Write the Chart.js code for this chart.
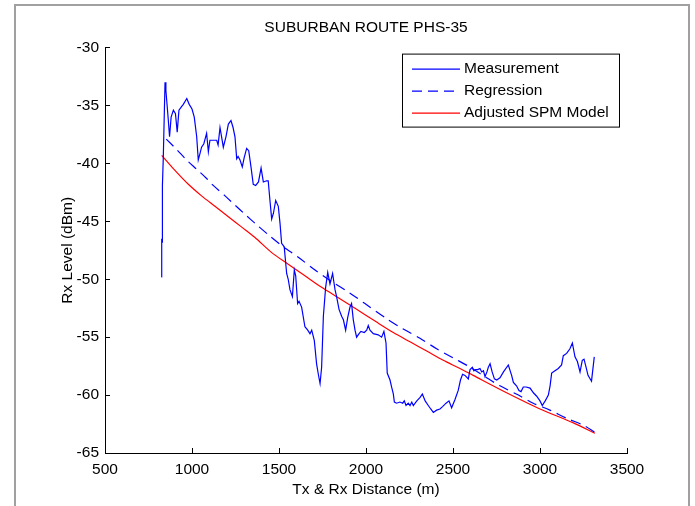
<!DOCTYPE html>
<html><head><meta charset="utf-8">
<script src="https://cdn.jsdelivr.net/npm/chart.js@4.4.0/dist/chart.umd.min.js"></script>
<style>html,body{margin:0;padding:0;background:#fff;}canvas{display:block;}</style>
</head><body>
<canvas id="c" width="695" height="506"></canvas>
<script>
const titleText = 'SUBURBAN ROUTE PHS-35';
const xAxisTitle = 'Tx & Rx Distance (m)';
const yAxisTitle = 'Rx Level (dBm)';
const seriesNames = ['Measurement', 'Regression', 'Adjusted SPM Model'];
const xTicks = [500, 1000, 1500, 2000, 2500, 3000, 3500];
const yTicks = [-65, -60, -55, -50, -45, -40, -35, -30];

const measDist = [824,826,828,830,835,845,850,856,864,871,880,893,905,915,925,940,950,970,984,1000,1013,1027,1036,1045,1055,1068,1084,1094,1103,1120,1142,1150,1161,1170,1180,1195,1209,1224,1236,1247,1257,1265,1276,1289,1300,1314,1326,1339,1352,1366,1382,1397,1410,1429,1438,1448,1458,1468,1481,1496,1506,1515,1530,1544,1553,1563,1577,1588,1596,1607,1615,1630,1649,1665,1678,1688,1703,1716,1726,1736,1745,1755,1768,1780,1793,1808,1822,1831,1845,1860,1870,1883,1895,1908,1917,1927,1937,1946,1960,1971,1990,2004,2013,2023,2042,2070,2090,2103,2115,2122,2138,2147,2157,2163,2176,2195,2211,2220,2230,2243,2253,2263,2272,2292,2311,2324,2340,2358,2372,2387,2406,2425,2440,2460,2477,2492,2511,2530,2543,2555,2569,2588,2598,2611,2620,2630,2642,2655,2665,2675,2684,2695,2703,2713,2725,2738,2751,2770,2790,2818,2837,2847,2865,2879,2891,2904,2920,2943,2962,2981,3000,3013,3030,3048,3058,3067,3086,3105,3124,3134,3153,3172,3186,3201,3215,3230,3243,3253,3265,3276,3296,3312];
const measLevel = [-49.8,-46.5,-46.8,-41.9,-39.5,-33.0,-33.7,-34.8,-36.3,-37.7,-36.0,-35.4,-35.7,-37.3,-35.4,-35.1,-34.9,-34.4,-34.9,-35.3,-36.0,-37.7,-39.7,-39.2,-38.6,-38.3,-37.4,-39.0,-38.0,-38.0,-38.0,-38.4,-36.9,-37.7,-38.6,-37.7,-36.6,-36.3,-36.9,-37.7,-39.6,-39.4,-39.7,-40.3,-39.5,-38.7,-38.9,-40.3,-41.8,-41.9,-41.6,-40.4,-41.6,-41.5,-41.5,-43.2,-44.8,-44.3,-43.2,-43.7,-45.2,-46.9,-47.2,-49.5,-50.0,-50.9,-51.5,-49.2,-49.7,-52.1,-51.9,-52.4,-54.1,-54.4,-54.7,-54.4,-55.3,-57.3,-58.2,-59.0,-57.6,-53.2,-50.7,-49.4,-50.4,-49.5,-50.9,-51.5,-52.6,-53.2,-53.5,-54.4,-53.3,-52.4,-52.1,-53.5,-54.4,-55.0,-54.7,-54.5,-54.6,-54.4,-54.0,-54.4,-54.7,-54.8,-55.0,-54.5,-55.5,-58.1,-58.7,-59.3,-59.9,-60.6,-60.7,-60.6,-60.7,-60.5,-60.9,-60.7,-60.9,-60.6,-60.9,-60.5,-60.2,-59.9,-60.5,-60.9,-61.2,-61.5,-61.3,-61.2,-61.0,-60.7,-60.5,-61.1,-60.4,-59.6,-58.7,-58.2,-58.3,-58.6,-57.8,-57.6,-57.9,-57.8,-57.8,-57.7,-58.0,-57.9,-58.4,-58.0,-57.6,-57.3,-58.0,-58.6,-58.7,-58.5,-58.0,-57.4,-58.3,-58.9,-59.2,-59.6,-59.7,-59.3,-59.3,-59.4,-59.8,-60.1,-60.5,-60.9,-60.5,-60.0,-59.2,-58.1,-57.9,-57.7,-57.4,-56.6,-56.4,-56.0,-55.5,-56.7,-57.1,-58.0,-57.0,-56.9,-57.6,-58.3,-58.8,-56.7];

const regDist = [852,912,969,1027,1084,1122,1190,1247,1305,1372,1450,1525,1611,1707,1803,1908,1994,2118,2214,2310,2406,2502,2588,2693,2770,2876,2961,3057,3153,3249,3316];
const regLevel = [-37.9,-38.8,-39.7,-40.5,-41.3,-41.9,-42.8,-43.6,-44.4,-45.3,-46.3,-47.2,-48.1,-49.2,-50.2,-51.2,-52.1,-53.4,-54.3,-55.1,-56.0,-56.8,-57.5,-58.5,-59.2,-60.0,-60.7,-61.3,-62.0,-62.6,-63.2];

const spmDist = [826,902,979,1055,1132,1209,1286,1362,1458,1553,1649,1745,1841,1937,2061,2157,2253,2349,2444,2540,2616,2808,3000,3192,3316];
const spmLevel = [-39.3,-40.6,-41.8,-42.8,-43.7,-44.6,-45.5,-46.4,-47.7,-48.7,-49.7,-50.7,-51.6,-52.5,-53.7,-54.6,-55.4,-56.2,-57.0,-57.7,-58.3,-59.8,-61.2,-62.4,-63.3];

const toPts = (xs, ys) => xs.map((x, i) => ({x: x, y: ys[i]}));
const FONT = {family: '"Liberation Sans", Arial, sans-serif', size: 15.5, weight: 'normal'};

const framePlugin = {
  id: 'frame',
  beforeDraw(chart) {
    const ctx = chart.ctx;
    ctx.save();
    ctx.fillStyle = '#fff';
    ctx.fillRect(0, 0, chart.width, chart.height);
    ctx.strokeStyle = '#a0a0a0';
    ctx.lineWidth = 2;
    ctx.beginPath();
    ctx.moveTo(15, chart.height);
    ctx.lineTo(15, 5);
    ctx.lineTo(689, 5);
    ctx.lineTo(689, chart.height);
    ctx.stroke();
    ctx.restore();
  }
};

const legendPlugin = {
  id: 'boxLegend',
  afterDatasetsDraw(chart) {
    const ctx = chart.ctx, ca = chart.chartArea;
    const bx = ca.right - 225, by = ca.top + 6, bw = 217, bh = 73;
    ctx.save();
    ctx.fillStyle = '#fff';
    ctx.fillRect(bx, by, bw, bh);
    ctx.strokeStyle = '#000';
    ctx.lineWidth = 1;
    ctx.strokeRect(bx + 0.5, by + 0.5, bw, bh);
    ctx.font = '15.5px "Liberation Sans", Arial, sans-serif';
    ctx.textBaseline = 'middle';
    ctx.textAlign = 'left';
    chart.data.datasets.forEach((ds, i) => {
      const yy = by + 15 + i * 22;
      ctx.strokeStyle = ds.borderColor;
      ctx.lineWidth = ds.borderWidth;
      ctx.setLineDash(ds.borderDash || []);
      ctx.beginPath();
      ctx.moveTo(bx + 10, yy + 0.5);
      ctx.lineTo(bx + 58, yy + 0.5);
      ctx.stroke();
      ctx.setLineDash([]);
      ctx.fillStyle = '#000';
      ctx.fillText(ds.label, bx + 62, yy);
    });
    ctx.restore();
  }
};

new Chart(document.getElementById('c'), {
  type: 'line',
  data: {
    datasets: [
      {label: seriesNames[0], data: toPts(measDist, measLevel), borderColor: '#0000ff', borderWidth: 1.2, pointRadius: 0, tension: 0, fill: false},
      {label: seriesNames[1], data: toPts(regDist, regLevel), borderColor: '#0000ff', borderWidth: 1.2, borderDash: [10, 6], pointRadius: 0, tension: 0.3, fill: false},
      {label: seriesNames[2], data: toPts(spmDist, spmLevel), borderColor: '#ff0000', borderWidth: 1.2, pointRadius: 0, tension: 0.3, fill: false}
    ]
  },
  options: {
    responsive: false,
    animation: false,
    devicePixelRatio: 1,
    layout: {padding: {left: 0, right: 68, top: 0, bottom: 0}},
    plugins: {
      legend: {display: false},
      tooltip: {enabled: false},
      title: {display: true, fullSize: false, text: titleText, color: '#000', font: FONT, padding: {top: 18, bottom: 11}}
    },
    scales: {
      x: {
        type: 'linear', min: 500, max: 3500,
        afterBuildTicks: s => { s.ticks = xTicks.map(v => ({value: v})); },
        afterFit: s => { s.height = 53; },
        grid: {drawOnChartArea: false, drawTicks: true, tickLength: -5, color: '#000'},
        border: {display: true, color: '#000', width: 1},
        ticks: {color: '#000', font: FONT, padding: 12, maxRotation: 0, autoSkip: false, callback: v => String(v)},
        title: {display: true, text: xAxisTitle, color: '#000', font: FONT, padding: {top: 0, bottom: 7}}
      },
      y: {
        type: 'linear', min: -65, max: -30,
        afterBuildTicks: s => { s.ticks = yTicks.map(v => ({value: v})); },
        afterFit: s => { s.width = 105; },
        grid: {drawOnChartArea: false, drawTicks: true, tickLength: -5, color: '#000'},
        border: {display: true, color: '#000', width: 1},
        ticks: {color: '#000', font: FONT, padding: 11, autoSkip: false, callback: v => String(v)},
        title: {display: true, text: yAxisTitle, color: '#000', font: FONT, padding: {top: 58, bottom: 0}}
      }
    }
  },
  plugins: [framePlugin, legendPlugin]
});
</script>
</body></html>
